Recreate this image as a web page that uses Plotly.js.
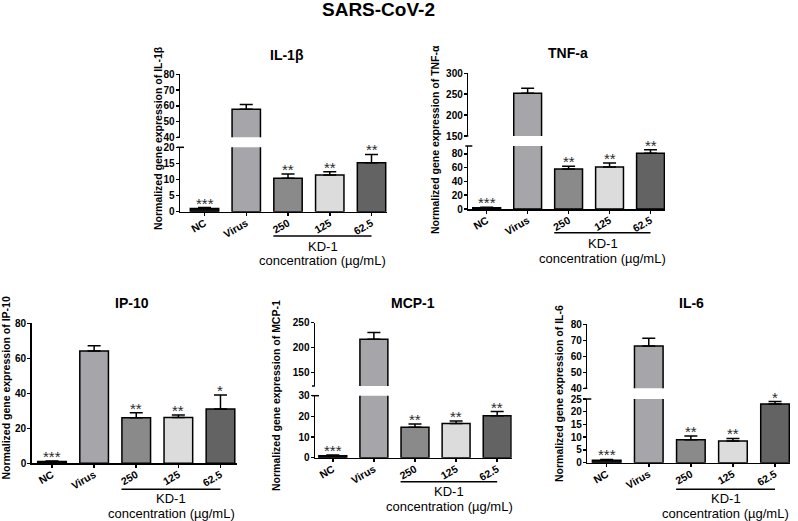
<!DOCTYPE html>
<html><head><meta charset="utf-8">
<script src="https://cdn.plot.ly/plotly-3.0.1.min.js"></script>
<style>html,body{margin:0;padding:0;background:#fff}#chart{width:798px;height:521px}</style>
</head><body><div id="chart"></div>
<script>
// ---------- data ----------
const categories = ['NC', 'Virus', '250', '125', '62.5'];
const barColors = ['#111111', '#a6a6aa', '#8a8a8a', '#dcdcdc', '#636363'];

const il1bMean = [1, 57.8, 10.4, 11.4, 15.2];
const il1bErr  = [0.3, 3.1, 1.3, 1.0, 2.6];
const il1bSig  = ['***', '', '**', '**', '**'];

const tnfMean = [1.9, 252, 58, 61, 81];
const tnfErr  = [0.5, 12, 4, 6, 5];
const tnfSig  = ['***', '', '**', '**', '**'];

const ip10Mean = [1, 64.2, 26, 26.2, 31];
const ip10Err  = [0.3, 2.9, 2.9, 1.4, 8];
const ip10Sig  = ['***', '', '**', '**', '*'];

const mcp1Mean = [1, 217, 14.7, 16.6, 20.3];
const mcp1Err  = [0.3, 13.5, 1.6, 1.1, 2.0];
const mcp1Sig  = ['***', '', '**', '**', '**'];

const il6Mean = [1, 66.5, 9.0, 8.5, 23];
const il6Err  = [0.3, 4.8, 1.5, 1.0, 1.0];
const il6Sig  = ['***', '', '**', '**', '*'];

const mainTitle = 'SARS-CoV-2';
const groupLabel = 'KD-1';
const unitLabel = 'concentration (µg/mL)';

// ---------- layout geometry (pixels) ----------
const W = 798, H = 521;
const FONT = 'Liberation Sans, Arial, sans-serif';
const fx = p => p / W;
const fy = p => 1 - p / H;

const panels = [
  {title: 'IL-1β', ytitle: 'Normalized gene expression of IL-1β', mean: il1bMean, err: il1bErr, sig: il1bSig,
   xpx: [180, 387], xr: [-0.587, 4.371],
   low: {px: [147.3, 211.7], r: [0, 20], dt: 5}, up: {px: [74.3, 137.3], r: [40, 80], dt: 10},
   tx: 286.7, ty: 55, yx: 158, yy: 138, ly: 236, ky: 246.7, cy: 260},
  {title: 'TNF-a', ytitle: 'Normalized gene expression of TNF-α', mean: tnfMean, err: tnfErr, sig: tnfSig,
   xpx: [468.3, 665], xr: [-0.449, 4.354],
   low: {px: [146, 209], r: [0, 91.6], dt: 20}, up: {px: [73.3, 136], r: [150, 300], dt: 50},
   tx: 568, ty: 53, yx: 435, yy: 140, ly: 232.7, ky: 243, cy: 258},
  {title: 'IP-10', ytitle: 'Normalized gene expression of IP-10', mean: ip10Mean, err: ip10Err, sig: ip10Sig,
   xpx: [31.7, 236.7], xr: [-0.482, 4.385],
   low: {px: [323.3, 463.3], r: [0, 80], dt: 20}, up: null,
   tx: 131.7, ty: 303.3, yx: 5.5, yy: 388, ly: 489.3, ky: 498.3, cy: 513.3},
  {title: 'MCP-1', ytitle: 'Normalized gene expression of MCP-1', mean: mcp1Mean, err: mcp1Err, sig: mcp1Sig,
   xpx: [315, 511.7], xr: [-0.433, 4.353],
   low: {px: [395.7, 457.7], r: [0, 30], dt: 10}, up: {px: [322.7, 386], r: [123.4, 250], dt: 50},
   tx: 413.3, ty: 302.7, yx: 276, yy: 396, ly: 481.7, ky: 491.7, cy: 506.7},
  {title: 'IL-6', ytitle: 'Normalized gene expression of IL-6', mean: il6Mean, err: il6Err, sig: il6Sig,
   xpx: [587.3, 790], xr: [-0.461, 4.356],
   low: {px: [399, 462.7], r: [0, 25], dt: 5}, up: {px: [324.3, 388.3], r: [40, 80], dt: 10},
   tx: 691.7, ty: 302.7, yx: 559, yy: 394, ly: 489.3, ky: 498.3, cy: 513.3}
];

const data = [];
const layout = {
  width: W, height: H,
  margin: {l: 0, r: 0, t: 0, b: 0},
  paper_bgcolor: '#fff', plot_bgcolor: 'rgba(0,0,0,0)',
  showlegend: false,
  font: {family: FONT, color: '#000'},
  annotations: [], shapes: []
};

const tickFont = {family: FONT, size: 10, weight: 700, color: '#000'};

function yAxisDef(seg, xid) {
  return {
    domain: [fy(seg.px[1]), fy(seg.px[0])], range: seg.r, anchor: xid,
    showline: true, linecolor: '#000', linewidth: 1.5,
    ticks: 'outside', ticklen: 3, tickwidth: 1.5, tickcolor: '#000',
    ticklabelstandoff: -1,
    tick0: 0, dtick: seg.dt, showgrid: false, zeroline: false,
    tickfont: tickFont, fixedrange: true
  };
}

panels.forEach((p, i) => {
  const xn = i + 1;
  const xid = 'x' + (xn > 1 ? xn : '');
  const xkey = 'xaxis' + (xn > 1 ? xn : '');
  const ln = 2 * i + 1, un = 2 * i + 2;
  const lid = 'y' + (ln > 1 ? ln : '');
  const lkey = 'yaxis' + (ln > 1 ? ln : '');
  const uid = 'y' + un, ukey = 'yaxis' + un;

  layout[xkey] = {
    domain: [fx(p.xpx[0]), fx(p.xpx[1])], range: p.xr, type: 'category', anchor: lid,
    showline: true, linecolor: '#000', linewidth: 1.5,
    ticks: 'outside', ticklen: 3, tickwidth: 1.5, tickcolor: '#000',
    ticklabelstandoff: -3,
    tickangle: -30, tickfont: {family: FONT, size: 10.5, weight: 700, color: '#000'},
    showgrid: false, zeroline: false, fixedrange: true
  };
  layout[lkey] = yAxisDef(p.low, xid);

  const barTrace = (yid) => ({
    type: 'bar', x: categories, y: p.mean, xaxis: xid, yaxis: yid, width: 0.68,
    marker: {color: barColors, line: {color: '#000', width: 1.5}},
    error_y: {type: 'data', symmetric: false, array: p.err, arrayminus: p.err.map(() => 0),
              color: '#000', thickness: 1.5, width: 6.5},
    hoverinfo: 'skip', showlegend: false
  });
  data.push(barTrace(lid));

  if (p.up) {
    layout[ukey] = yAxisDef(p.up, xid);
    data.push(barTrace(uid));
    // break marks on the axis
    const ax = p.xpx[0];
    layout.shapes.push({type: 'line', xref: 'paper', yref: 'paper',
      x0: fx(ax - 3), x1: fx(ax + 4), y0: fy(p.low.px[0]), y1: fy(p.low.px[0]),
      line: {color: '#000', width: 1.5}});
    layout.shapes.push({type: 'line', xref: 'paper', yref: 'paper',
      x0: fx(ax - 3), x1: fx(ax), y0: fy(p.up.px[1]), y1: fy(p.up.px[1]),
      line: {color: '#000', width: 1.5}});
  }

  // significance marks
  p.sig.forEach((s, j) => {
    if (!s) return;
    layout.annotations.push({xref: xid, yref: lid, x: j, y: p.mean[j] + p.err[j],
      text: s, showarrow: false, yanchor: 'bottom', yshift: -6,
      font: {family: FONT, size: 15, color: '#2a2a2a'}});
  });

  // panel title
  layout.annotations.push({xref: 'paper', yref: 'paper', x: fx(p.tx), y: fy(p.ty),
    text: p.title, showarrow: false, xanchor: 'center', yanchor: 'middle',
    font: {family: FONT, size: 14, weight: 700, color: '#000'}});
  // y-axis title
  layout.annotations.push({xref: 'paper', yref: 'paper', x: fx(p.yx), y: fy(p.yy),
    text: p.ytitle, showarrow: false, textangle: -90, xanchor: 'center', yanchor: 'middle',
    font: {family: FONT, size: 10.5, weight: 700, color: '#000'}});
  // group line and label
  layout.shapes.push({type: 'line', xref: xid, yref: 'paper', x0: 1.65, x1: 4.0,
    y0: fy(p.ly), y1: fy(p.ly), line: {color: '#000', width: 1.5}});
  layout.annotations.push({xref: xid, yref: 'paper', x: 2.83, y: fy(p.ky),
    text: groupLabel, showarrow: false, xanchor: 'center', yanchor: 'middle',
    font: {family: FONT, size: 13, color: '#000'}});
  layout.annotations.push({xref: xid, yref: 'paper', x: 2.83, y: fy(p.cy),
    text: unitLabel, showarrow: false, xanchor: 'center', yanchor: 'middle',
    font: {family: FONT, size: 13, color: '#000'}});
});

layout.annotations.push({xref: 'paper', yref: 'paper', x: fx(378.5), y: fy(10),
  text: mainTitle, showarrow: false, xanchor: 'center', yanchor: 'middle',
  font: {family: FONT, size: 19, weight: 700, color: '#000'}});

Plotly.newPlot('chart', data, layout, {displayModeBar: false, staticPlot: true});
</script>
</body></html>
